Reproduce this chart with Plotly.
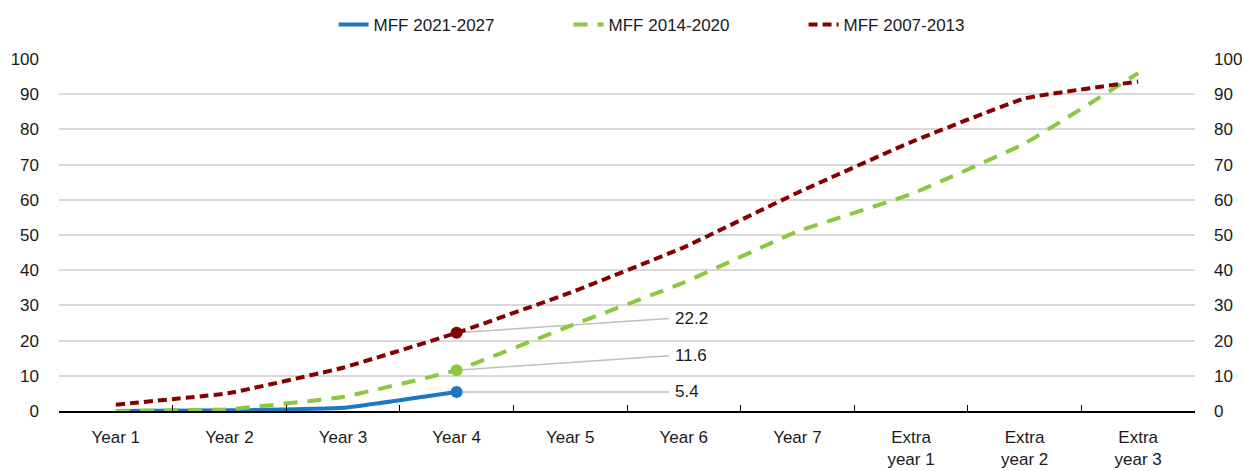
import plotly.graph_objects as go

categories = ["Year 1", "Year 2", "Year 3", "Year 4", "Year 5", "Year 6", "Year 7",
              "Extra<br>year 1", "Extra<br>year 2", "Extra<br>year 3"]

mff_2021_2027 = [0.0, 0.2, 0.9, 5.4]
mff_2014_2020 = [0.0, 0.5, 4.0, 11.6, 24.2, 36.5, 51.0, 61.6, 76.0, 96.0]
mff_2007_2013 = [1.8, 5.1, 12.3, 22.2, 33.6, 46.5, 62.0, 76.4, 88.8, 93.6]

# labelled points: (series values, index, label end y)
labels = [(mff_2007_2013, 3, 26.3), (mff_2014_2020, 3, 15.7), (mff_2021_2027, 3, 5.4)]
label_x_end = 4.87

FONT = "Liberation Sans Narrow, Arial Narrow, Liberation Sans, Arial, sans-serif"
FS = 17
TXT = "#1a1a1a"
BLUE = "#1C78C0"
GREEN = "#8DC63F"
RED = "#850000"

fig = go.Figure()

fig.add_trace(go.Scatter(
    x=categories[:len(mff_2021_2027)], y=mff_2021_2027, name="MFF 2021-2027",
    mode="lines", line=dict(color=BLUE, width=4, shape="spline", smoothing=0.3),
))
fig.add_trace(go.Scatter(
    x=categories, y=mff_2014_2020, name="MFF 2014-2020",
    mode="lines", line=dict(color=GREEN, width=4, dash="14px,10px", shape="spline", smoothing=0.3),
))
fig.add_trace(go.Scatter(
    x=categories, y=mff_2007_2013, name="MFF 2007-2013",
    mode="lines", line=dict(color=RED, width=4, dash="9px,5px", shape="spline", smoothing=0.3),
))

# leader lines and value labels
for series, idx, y_end in labels:
    fig.add_shape(type="line", xref="x", yref="y",
                  x0=idx, y0=series[idx], x1=label_x_end, y1=y_end,
                  line=dict(color="#BFBFBF", width=1.5), layer="below")
    fig.add_annotation(x=label_x_end, y=y_end, xref="x", yref="y",
                       text=f"{series[idx]:.1f}", showarrow=False,
                       xanchor="left", yanchor="middle", xshift=4,
                       font=dict(family=FONT, size=FS, color=TXT))

# end-point markers drawn on top
for series, color in [(mff_2021_2027, BLUE), (mff_2014_2020, GREEN), (mff_2007_2013, RED)]:
    fig.add_trace(go.Scatter(
        x=[categories[3]], y=[series[3]], mode="markers", showlegend=False,
        marker=dict(color=color, size=12), hoverinfo="skip",
    ))

# invisible trace to show the right axis
fig.add_trace(go.Scatter(x=[categories[0]], y=[0], yaxis="y2", mode="markers",
                         marker=dict(opacity=0), showlegend=False, hoverinfo="skip"))

fig.update_layout(
    width=1244, height=471,
    margin=dict(l=59, r=49, t=59, b=60),
    paper_bgcolor="white", plot_bgcolor="white",
    font=dict(family=FONT, size=FS, color=TXT),
    showlegend=True,
    legend=dict(orientation="h", x=0.552, xanchor="center", y=0.985, yanchor="top",
                yref="container", entrywidth=190,
                font=dict(family=FONT, size=FS, color=TXT)),
    xaxis=dict(
        type="category", categoryorder="array", categoryarray=categories,
        range=[-0.5, 9.5], tickson="boundaries", ticks="inside", ticklen=6,
        tickcolor="#000000", showline=True, linecolor="#000000", linewidth=1.5,
        showgrid=False, tickfont=dict(family=FONT, size=FS, color=TXT),
        ticklabelstandoff=10, automargin=False, fixedrange=True,
    ),
    yaxis=dict(
        range=[0, 100], tickvals=list(range(0, 101, 10)), showgrid=True,
        gridcolor="#D9D9D9", gridwidth=1.5, zeroline=False, showline=False,
        ticks="", ticklabelstandoff=19, automargin=False,
        tickfont=dict(family=FONT, size=FS, color=TXT),
    ),
    yaxis2=dict(
        range=[0, 100], tickvals=list(range(0, 101, 10)), overlaying="y", side="right",
        showgrid=False, zeroline=False, showline=False, ticks="", ticklabelstandoff=18,
        automargin=False, tickfont=dict(family=FONT, size=FS, color=TXT),
    ),
)

fig.write_html("out.html")
